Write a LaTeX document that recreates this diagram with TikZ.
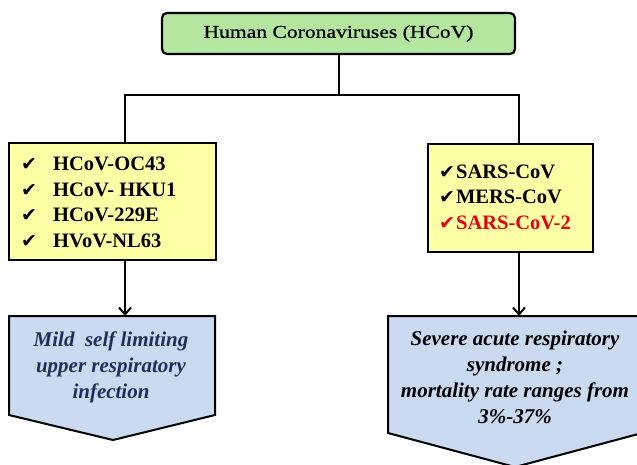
\documentclass[tikz,border=0pt]{standalone}
\usepackage{fontspec}
\setmainfont{Liberation Serif}
\newfontfamily\dejavu{DejaVu Sans}
\newfontfamily\widefont[FakeStretch=1.2,FakeBold=0.8]{Liberation Serif}
\usetikzlibrary{arrows.meta}
\definecolor{topgreen}{HTML}{B4E6A0}
\definecolor{listyellow}{HTML}{FFFFA5}
\definecolor{pentblue}{HTML}{C9DAF1}
\definecolor{navytext}{HTML}{1F2F5C}
\definecolor{checkred}{HTML}{E60012}
\newcommand{\ck}{{\dejavu\fontsize{19}{19}\selectfont ✔}}
\tikzset{
  topbox/.style={draw=black, line width=2.2pt, rounded corners=5pt, fill=topgreen,
    minimum width=353pt, minimum height=41pt, inner sep=0pt},
  listbox/.style={draw=black, line width=2.4pt, fill=listyellow, inner sep=0pt},
  listtext/.style={anchor=west, align=left, inner sep=0pt,
    font=\bfseries\fontsize{20.5}{25.5}\selectfont},
  pentshape/.style={draw=black, line width=2pt, fill=pentblue, line join=miter},
  penttext/.style={align=center, inner sep=0pt,
    font=\bfseries\itshape\fontsize{21}{26}\selectfont},
  conn/.style={line width=2pt, line join=miter},
  arr/.style={line width=2pt, -{Straight Barb[length=7pt,width=12pt,line width=2pt]}}
}
\begin{document}
\begin{tikzpicture}[x=1pt,y=-1pt]
\clip (0,0) rectangle (637,464);
\fill[white] (0,0) rectangle (637,464);

% top node
\node[topbox] (top) at (338.5,33.5) {\widefont\fontsize{18}{20}\selectfont Human Coronaviruses (HCoV)};

% list boxes
\node[listbox, minimum width=207pt, minimum height=117pt] (lbox) at (112.5,201.5) {};
\node[listtext] (ltext) at (21,202.5) {%
  \makebox[32pt][l]{\ck}HCoV-OC43\\
  \makebox[32pt][l]{\ck}HCoV- HKU1\\
  \makebox[32pt][l]{\ck}HCoV-229E\\
  \makebox[32pt][l]{\ck}HVoV-NL63};

\node[listbox, minimum width=165pt, minimum height=108pt] (rbox) at (510.5,198) {};
\node[listtext] (rtext) at (439,197) {%
  \ck\hspace{1pt}SARS-CoV\\
  \ck\hspace{1pt}MERS-CoV\\
  \textcolor{checkred}{\ck\hspace{1pt}SARS-CoV-2}};

% tree connectors
\coordinate (jl) at (125,95);
\coordinate (jr) at (519,95);
\draw[conn] (top.south) -- (top.south |- jl);
\draw[conn] (jl |- lbox.north) -- (jl) -- (jr) -- (jr |- rbox.north);

% pentagons
\draw[pentshape] (9,316) -- (215,316) -- (215,415) -- (113,440) -- (9,415) -- cycle;
\draw[pentshape] (388,316) -- (642,316) -- (642,433) -- (515,467) -- (388,433) -- cycle;

\coordinate (lpent) at (125,316);
\coordinate (rpent) at (519,316);
\draw[arr] (lbox.south -| lpent) -- (lpent);
\draw[arr] (rbox.south -| rpent) -- (rpent);

\node[penttext, text=navytext] (lres) at (111,367) {Mild\ \ self limiting\\upper respiratory\\infection};
\node[penttext, text=black] (rres) at (515,377) {Severe acute respiratory\\syndrome ;\\mortality rate ranges from\\3\%-37\%};
\end{tikzpicture}
\end{document}
